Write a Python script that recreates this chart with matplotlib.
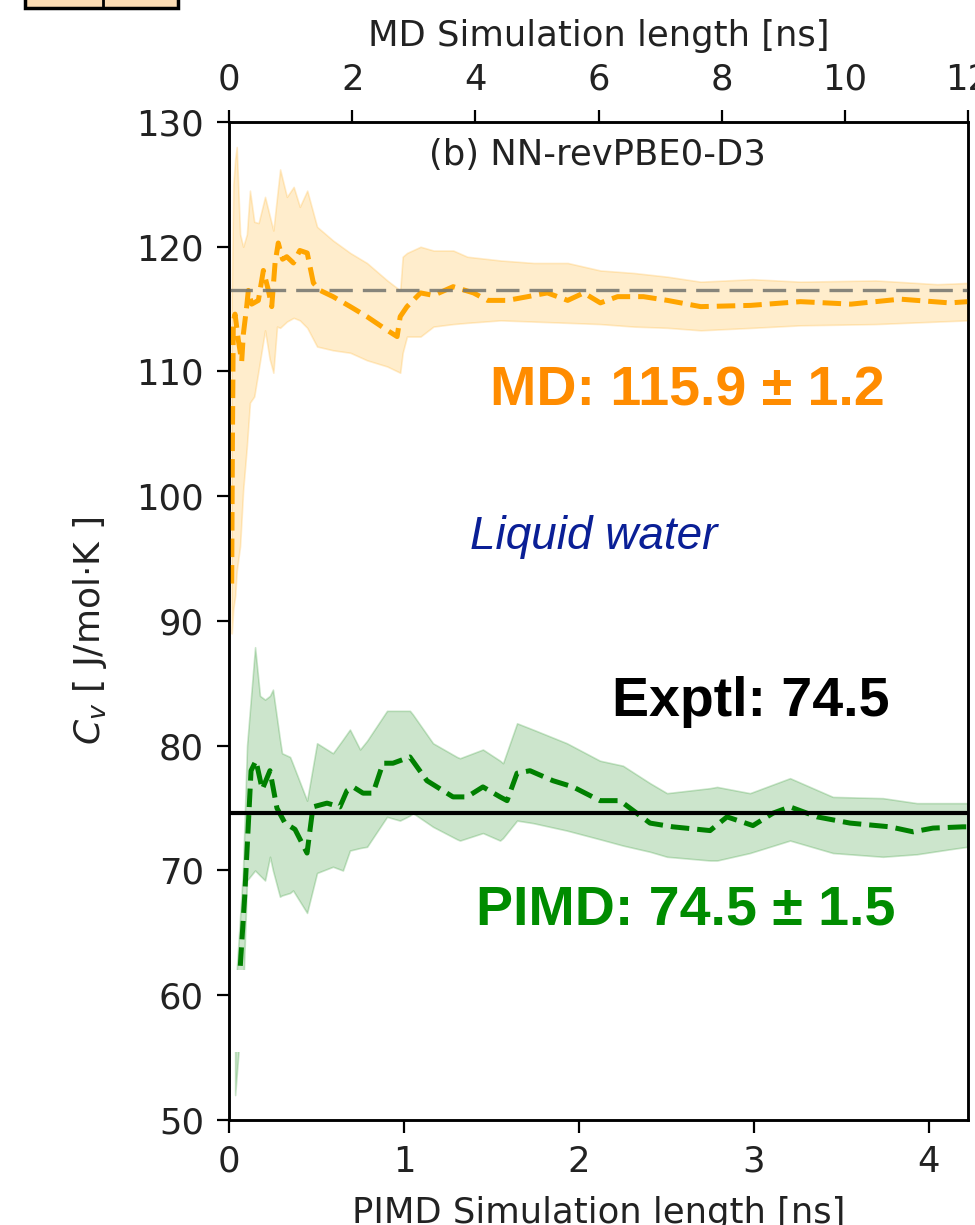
import matplotlib
matplotlib.use("Agg")
import matplotlib.pyplot as plt
from matplotlib.patches import Rectangle
from matplotlib.lines import Line2D

# ---------------- data ----------------
# MD (top axis, ns)
md_t = [0.044, 0.055, 0.07, 0.098, 0.152, 0.206, 0.233, 0.287, 0.314, 0.368,
        0.477, 0.558, 0.64, 0.694, 0.748, 0.80, 0.87, 0.938, 1.046, 1.15,
        1.27, 1.37, 1.48, 1.69, 1.97, 2.24, 2.57, 2.73, 2.78, 2.89,
        3.11, 3.32, 3.64, 3.97, 4.2, 4.52, 4.85, 5.17, 5.5, 5.76,
        6.03, 6.31, 6.73, 7.12, 7.66, 8.47, 9.28, 10.1, 10.9, 11.7, 12.0]
md_mean = [93, 104, 114, 114.6, 112.5, 110.8, 113, 115.2, 116.5, 115.4,
           115.7, 118.1, 116.5, 115.2, 118.7, 120.3, 119.0, 119.2, 118.7, 119.7,
           119.5, 117.1, 116.5, 116.0, 115.2, 114.4, 113.3, 112.8, 114.4, 115.2,
           116.3, 116.1, 116.8, 116.3, 115.7, 115.7, 116.0, 116.3, 115.7, 116.3,
           115.5, 116.0, 116.0, 115.7, 115.2, 115.3, 115.6, 115.4, 115.8, 115.5, 115.6]
md_band_t = [0.044, 0.07, 0.1, 0.125, 0.18, 0.23, 0.29, 0.34, 0.41, 0.48,
             0.585, 0.66, 0.72, 0.78, 0.83, 0.94, 1.05, 1.15, 1.27, 1.43,
             1.69, 1.97, 2.24, 2.57, 2.78, 2.82, 2.89, 3.11, 3.32, 3.64,
             3.87, 4.41, 4.95, 5.5, 6.03, 6.57, 7.12, 7.66, 8.5, 9.28,
             10.5, 11.5, 12.0]
md_hi = [116, 125, 127, 128, 121, 120, 121, 124.5, 122, 121.9,
         124, 122.5, 121.3, 124, 126.2, 124, 124.8, 123.2, 124.5, 121.6,
         120.5, 119.5, 118.7, 117.3, 116.5, 119.2, 119.5, 120, 119.7, 119.7,
         119.2, 118.9, 118.7, 118.7, 118.1, 117.9, 117.6, 117.2, 117.4, 117.2,
         117.3, 117.0, 117.1]
md_lo = [89, 91, 92, 94, 96, 100.5, 104, 107.5, 108, 110.1,
         113.3, 111, 109.9, 113.6, 113.5, 114, 114.3, 114.1, 113.5, 112,
         111.7, 111.5, 110.9, 110.4, 109.9, 111.5, 112.8, 112.8, 113.6, 113.8,
         113.9, 114.1, 114.0, 113.9, 113.8, 113.6, 113.5, 113.3, 113.5, 113.7,
         113.8, 114.0, 114.1]
md_ref = 116.5

# PIMD (bottom axis, ns)
pimd_t = [0.035, 0.063, 0.09, 0.126, 0.154, 0.19, 0.234, 0.274, 0.32, 0.377,
          0.446, 0.48, 0.56, 0.634, 0.674, 0.709, 0.766, 0.823, 0.88, 0.937,
          1.034, 1.131, 1.28, 1.36, 1.451, 1.549, 1.589, 1.646, 1.72, 1.851,
          1.966, 2.12, 2.234, 2.406, 2.537, 2.749, 2.846, 2.994, 3.109, 3.206,
          3.36, 3.549, 3.777, 3.909, 4.023, 4.194, 4.22]
pimd_mean = [56, 62, 68, 78, 78.8, 76.5, 78, 75, 73.8, 73.3,
             71.4, 75.1, 75.4, 75.1, 76.4, 76.7, 76.2, 76.2, 78.6, 78.6,
             79.1, 77.2, 75.9, 75.9, 76.7, 75.9, 75.6, 77.8, 78.0, 77.2,
             76.7, 75.6, 75.6, 73.8, 73.5, 73.2, 74.3, 73.6, 74.6, 75.1,
             74.3, 73.8, 73.5, 73.1, 73.4, 73.5, 73.5]
pimd_band_t = [0.035, 0.08, 0.103, 0.149, 0.177, 0.206, 0.234, 0.251, 0.291, 0.303,
               0.349, 0.366, 0.446, 0.503, 0.594, 0.651, 0.691, 0.749, 0.789, 0.903,
               0.977, 1.034, 1.051, 1.166, 1.303, 1.32, 1.451, 1.549, 1.566, 1.646,
               1.737, 1.931, 2.12, 2.251, 2.406, 2.503, 2.749, 2.789, 2.977, 3.206,
               3.451, 3.737, 3.931, 4.12, 4.22]
pimd_hi = [60, 70, 80, 87.9, 84, 83.7, 84, 84.5, 80.5, 79.4,
           79.1, 78.5, 75.6, 80.2, 79.4, 80.5, 81.3, 79.7, 80.4, 82.8,
           82.8, 82.8, 82.5, 80.2, 79.1, 79.0, 79.7, 78.8, 78.6, 81.8,
           81.3, 80.2, 78.8, 78.4, 77.0, 76.2, 76.6, 76.7, 76.2, 77.4,
           75.9, 75.8, 75.4, 75.4, 75.4]
pimd_lo = [52, 60, 69.2, 70, 69.6, 69.2, 71.1, 70, 67.9, 68.0,
           68.2, 68.4, 66.6, 69.8, 70.3, 70, 71.6, 71.8, 71.9, 74.3,
           74, 74.4, 74.6, 73.5, 72.5, 72.4, 73, 72.4, 72.6, 74,
           73.8, 73.2, 72.5, 72.0, 71.5, 71.1, 70.8, 70.8, 71.4, 72.4,
           71.4, 71.1, 71.3, 71.7, 71.9]
exptl = 74.6

y_ticks = [50, 60, 70, 80, 90, 100, 110, 120, 130]
pimd_ticks = [0, 1, 2, 3, 4]
md_ticks = [0, 2, 4, 6, 8, 10, 12]

title_txt = "(b) NN-revPBE0-D3"
md_txt = "MD: 115.9 \u00b1 1.2"
pimd_txt = "PIMD: 74.5 \u00b1 1.5"
exptl_txt = "Exptl: 74.5"
phase_txt = "Liquid water"

# ---------------- figure ----------------
fig = plt.figure(figsize=(9.75, 12.25), dpi=100)
ax = fig.add_axes([229/975, 1-1120/1225, 739/975, 998/1225])
ax.set_xlim(0, 4.223)
ax.set_ylim(50, 130)
ax2 = ax.twiny()
ax2.set_xlim(0, 12)

ORANGE = "#ffa500"
GREEN = "#008000"

# PIMD
ax.fill_between(pimd_band_t, pimd_lo, pimd_hi, color=GREEN, alpha=0.2, lw=1.2)
ax.plot(pimd_t, pimd_mean, ls="--", color=GREEN, lw=3.6)
ax.axhline(exptl, color="black", lw=3, zorder=3)

# MD
ax2.fill_between(md_band_t, md_lo, md_hi, color=ORANGE, alpha=0.2, lw=1.2)
ax2.plot(md_t, md_mean, ls="--", color=ORANGE, lw=3.6)
ax2.axhline(md_ref, color="#7a7a72", lw=2.4, dashes=(7, 3), alpha=0.9)

# white overlay patch (from the source image)
ax2.add_patch(Rectangle((0.003, 0.068), 0.989, 0.082, transform=ax.transAxes,
                        facecolor="white", edgecolor="none", zorder=5))

for a in (ax, ax2):
    for s in a.spines.values():
        s.set_linewidth(1.8)

ax.set_yticks(y_ticks)
ax.set_xticks(pimd_ticks)
ax2.set_xticks(md_ticks)
ax.tick_params(axis="both", length=9, width=1.6, pad=9, labelsize=25.5,
               labelcolor="#222222")
ax2.tick_params(axis="x", length=9, width=1.6, pad=9, labelsize=25.5,
                labelcolor="#222222")

ax.set_xlabel("PIMD Simulation length [ns]", fontsize=25.5, labelpad=12,
              color="#222222")
ax2.set_xlabel("MD Simulation length [ns]", fontsize=25.5, labelpad=12,
               color="#222222")
ax.set_ylabel("$C_v$ [ J/mol\u00b7K ]", fontsize=26, color="#222222")
ax.yaxis.set_label_coords(-0.162, 0.49)

big = dict(family="Liberation Sans", fontweight="bold", fontsize=40,
           ha="center", va="center", transform=ax.transAxes, zorder=10)
ax2.text(0.498, 0.967, title_txt, fontsize=25.5, ha="center", va="center",
         transform=ax.transAxes, color="#222222")
ax2.text(0.620, 0.730, md_txt, color="#ff8c00", **big)
ax2.text(0.706, 0.419, exptl_txt, color="black", **big)
ax2.text(0.618, 0.210, pimd_txt, color="#008c00", **big)
ax2.text(0.494, 0.584, phase_txt, family="Liberation Sans", style="italic",
         fontsize=33, color="#0a1f96", ha="center", va="center",
         transform=ax.transAxes)

# fragment of a legend box visible at the top-left of the source image
fig.patches.append(Rectangle((25/975, 1-8/1225), 153/975, 0.03,
                             transform=fig.transFigure, facecolor="#fcdcb4",
                             edgecolor="black", lw=2.5, clip_on=False))
fig.lines.append(Line2D([103/975, 103/975], [1-8/1225, 1.0],
                        transform=fig.transFigure, color="black", lw=2))

fig.savefig("out.png", dpi=100)
